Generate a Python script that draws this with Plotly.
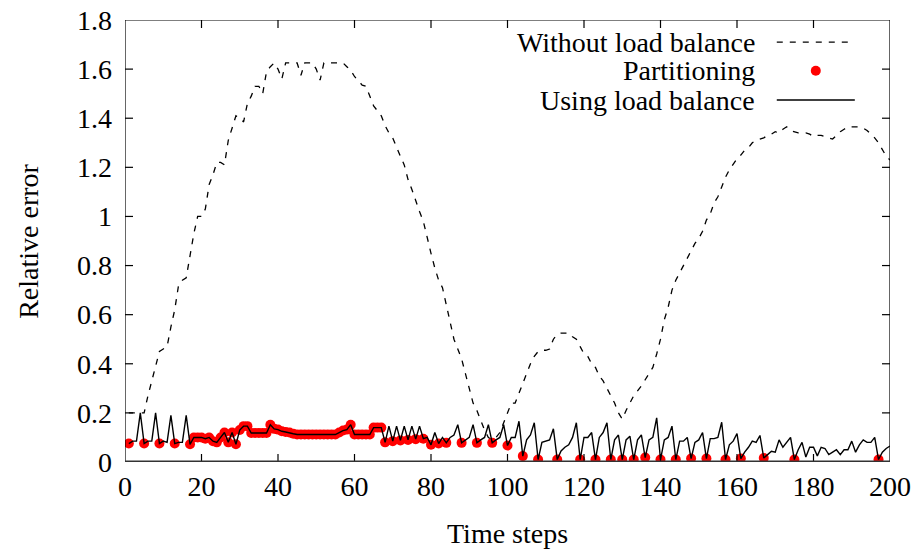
import plotly.graph_objects as go

# ---------------- data ----------------
steps = list(range(1, 201))

without_lb = [
    0.20, 0.20, 0.20, 0.20, 0.20, 0.27, 0.33, 0.39, 0.45, 0.46,
    0.47, 0.55, 0.62, 0.72, 0.74, 0.75, 0.85, 0.93, 1.00, 1.00,
    1.03, 1.13, 1.17, 1.22, 1.22, 1.21, 1.31, 1.36, 1.41, 1.40,
    1.385, 1.46, 1.49, 1.53, 1.53, 1.50, 1.59, 1.61, 1.625, 1.60,
    1.56, 1.625, 1.625, 1.625, 1.625, 1.575, 1.625, 1.625, 1.625, 1.60,
    1.555, 1.625, 1.625, 1.625, 1.625, 1.625, 1.625, 1.61, 1.595, 1.57,
    1.55, 1.535, 1.53, 1.49, 1.45, 1.43, 1.41, 1.37, 1.34, 1.32,
    1.28, 1.245, 1.21, 1.15, 1.11, 1.06, 1.02, 0.98, 0.91, 0.85,
    0.79, 0.74, 0.71, 0.64, 0.57, 0.50, 0.46, 0.42, 0.36, 0.30,
    0.24, 0.21, 0.17, 0.13, 0.10, 0.09, 0.10, 0.12, 0.16, 0.20,
    0.24, 0.24, 0.28, 0.32, 0.36, 0.40, 0.43, 0.45, 0.455, 0.455,
    0.46, 0.50, 0.52, 0.525, 0.525, 0.525, 0.51, 0.50, 0.47, 0.44,
    0.43, 0.40, 0.385, 0.35, 0.33, 0.30, 0.27, 0.24, 0.20, 0.175,
    0.21, 0.24, 0.27, 0.29, 0.31, 0.335, 0.36, 0.385, 0.44, 0.50,
    0.58, 0.63, 0.70, 0.74, 0.77, 0.80, 0.835, 0.86, 0.89, 0.91,
    0.94, 0.985, 1.01, 1.055, 1.08, 1.12, 1.16, 1.19, 1.215, 1.235,
    1.25, 1.27, 1.28, 1.30, 1.31, 1.315, 1.32, 1.33, 1.335, 1.345,
    1.34, 1.355, 1.365, 1.35, 1.345, 1.34, 1.34, 1.34, 1.335, 1.325,
    1.33, 1.33, 1.325, 1.32, 1.315, 1.33, 1.345, 1.355, 1.365, 1.365,
    1.365, 1.365, 1.36, 1.35, 1.335, 1.32, 1.30, 1.27, 1.245, 1.23,
]

using_lb = [
    0.075, 0.085, 0.085, 0.20, 0.075, 0.085, 0.085, 0.20, 0.075, 0.085,
    0.08, 0.19, 0.075, 0.08, 0.08, 0.19, 0.072, 0.10, 0.10, 0.10,
    0.095, 0.10, 0.085, 0.08, 0.10, 0.12, 0.08, 0.12, 0.072, 0.13,
    0.146, 0.146, 0.118, 0.118, 0.118, 0.118, 0.118, 0.152, 0.135, 0.132,
    0.125, 0.122, 0.12, 0.115, 0.112, 0.112, 0.112, 0.112, 0.112, 0.112,
    0.112, 0.112, 0.112, 0.112, 0.112, 0.12, 0.128, 0.132, 0.152, 0.112,
    0.112, 0.112, 0.112, 0.112, 0.14, 0.14, 0.14, 0.08, 0.146, 0.085,
    0.146, 0.088, 0.146, 0.09, 0.146, 0.093, 0.146, 0.095, 0.10, 0.07,
    0.12, 0.075, 0.10, 0.078, 0.10, 0.11, 0.152, 0.078, 0.09, 0.10,
    0.152, 0.078, 0.09, 0.10, 0.152, 0.078, 0.09, 0.10, 0.152, 0.067,
    0.10, 0.10, 0.166, 0.024, 0.09, 0.11, 0.16, 0.01, 0.08, 0.085,
    0.09, 0.135, 0.01, 0.045, 0.06, 0.07, 0.10, 0.16, 0.01, 0.10,
    0.10, 0.12, 0.01, 0.10, 0.12, 0.16, 0.01, 0.09, 0.11, 0.01,
    0.09, 0.105, 0.01, 0.09, 0.11, 0.018, 0.09, 0.10, 0.18, 0.01,
    0.09, 0.10, 0.146, 0.01, 0.085, 0.085, 0.10, 0.014, 0.08, 0.09,
    0.12, 0.014, 0.095, 0.095, 0.10, 0.162, 0.01, 0.07, 0.085, 0.116,
    0.014, 0.04, 0.06, 0.085, 0.08, 0.108, 0.016, 0.03, 0.044, 0.04,
    0.09, 0.06, 0.08, 0.10, 0.01, 0.05, 0.08, 0.02, 0.06, 0.06,
    0.025, 0.06, 0.055, 0.03, 0.04, 0.05, 0.03, 0.05, 0.05, 0.085,
    0.04, 0.07, 0.09, 0.08, 0.08, 0.10, 0.01, 0.04, 0.055, 0.065,
]

partition_steps = ([1, 5, 9, 13, 17] + list(range(18, 68)) +
                   [68, 70, 72, 74, 76, 78, 80, 82, 84, 88, 92, 96, 100, 104,
                    108, 113, 119, 123, 127, 130, 133, 136, 140, 144, 148,
                    152, 157, 161, 167, 175, 197])
partition_vals = [using_lb[s - 1] for s in partition_steps]

x_ticks = [0, 20, 40, 60, 80, 100, 120, 140, 160, 180, 200]
y_ticks = [0, 0.2, 0.4, 0.6, 0.8, 1.0, 1.2, 1.4, 1.6, 1.8]
y_tick_text = ["0", "0.2", "0.4", "0.6", "0.8", "1", "1.2", "1.4", "1.6", "1.8"]

series_names = ["Without load balance", "Partitioning", "Using load balance"]

# ---------------- figure ----------------
FONT = "Liberation Serif"
FS = 28
X_RANGE = [0, 200]
Y_RANGE = [0, 1.8]

fig = go.Figure()
fig.add_trace(go.Scatter(x=steps, y=without_lb, mode="lines",
                         name=series_names[0],
                         line=dict(color="black", width=1.3, dash="6px,7px")))
fig.add_trace(go.Scatter(x=partition_steps, y=partition_vals, mode="markers",
                         name=series_names[1],
                         marker=dict(color="#ff0000", size=10)))
fig.add_trace(go.Scatter(x=steps, y=using_lb, mode="lines",
                         name=series_names[2],
                         line=dict(color="black", width=1.4)))

# frame (gnuplot border) and inward tick marks, built from axis ranges / tick arrays
tx = 8 / 765 * (X_RANGE[1] - X_RANGE[0])   # 8 px tick length in x units
ty = 8 / 442 * (Y_RANGE[1] - Y_RANGE[0])   # 8 px tick length in y units
fx, fy = [], []
for t in x_ticks[1:-1]:
    fx += [t, t, None, t, t, None]
    fy += [Y_RANGE[0], Y_RANGE[0] + ty, None, Y_RANGE[1], Y_RANGE[1] - ty, None]
for t in y_ticks[1:-1]:
    fx += [X_RANGE[0], X_RANGE[0] + tx, None, X_RANGE[1], X_RANGE[1] - tx, None]
    fy += [t, t, None, t, t, None]
fx += [X_RANGE[0], X_RANGE[0], X_RANGE[1], X_RANGE[1]]
fy += [Y_RANGE[0], Y_RANGE[1], Y_RANGE[1], Y_RANGE[0]]
fig.add_trace(go.Scatter(x=fx, y=fy, mode="lines", cliponaxis=False,
                         hoverinfo="skip", showlegend=False,
                         line=dict(color="black", width=1.2)))
fig.add_trace(go.Scatter(x=X_RANGE, y=[Y_RANGE[0], Y_RANGE[0]], mode="lines",
                         cliponaxis=False, hoverinfo="skip", showlegend=False,
                         line=dict(color="#333333", width=3)))

axis_common = dict(showgrid=False, zeroline=False, showline=False,
                   ticks="", automargin=False,
                   tickfont=dict(family=FONT, size=FS, color="black"))

fig.update_layout(
    template="none",
    width=914, height=552,
    margin=dict(l=125, r=24, t=20, b=90, pad=0),
    paper_bgcolor="white", plot_bgcolor="white",
    showlegend=False,
    font=dict(family=FONT, size=FS, color="black"),
    xaxis=dict(range=X_RANGE, tickvals=x_ticks, ticklabelstandoff=5,
               **axis_common),
    yaxis=dict(range=Y_RANGE, tickvals=y_ticks, ticktext=y_tick_text,
               ticklabelstandoff=12, **axis_common),
)

# axis titles
fig.add_annotation(text="Relative error", xref="paper", yref="paper",
                   x=-0.127, y=0.5, textangle=-90, showarrow=False,
                   xanchor="center", yanchor="middle",
                   font=dict(family=FONT, size=FS, color="black"))
fig.add_annotation(text="Time steps", xref="paper", yref="paper",
                   x=0.5, y=-0.1616, showarrow=False,
                   xanchor="center", yanchor="middle",
                   font=dict(family=FONT, size=FS, color="black"))

# legend (gnuplot style: right-aligned text, sample to the right)
leg_y = [0.950, 0.885, 0.819]
for name, yy in zip(series_names, leg_y):
    fig.add_annotation(text=name, xref="paper", yref="paper", x=0.826, y=yy,
                       showarrow=False, xanchor="right", yanchor="middle",
                       font=dict(family=FONT, size=FS, color="black"))
fig.add_shape(type="line", xref="paper", yref="paper", x0=0.852, x1=0.954,
              y0=leg_y[0], y1=leg_y[0],
              line=dict(color="black", width=1.3, dash="6px,7px"))
fig.add_shape(type="circle", xref="paper", yref="paper",
              xsizemode="pixel", ysizemode="pixel",
              xanchor=0.903, yanchor=leg_y[1], x0=-5, x1=5, y0=-5, y1=5,
              fillcolor="#ff0000", line=dict(color="#ff0000", width=0))
fig.add_shape(type="line", xref="paper", yref="paper", x0=0.852, x1=0.954,
              y0=leg_y[2], y1=leg_y[2],
              line=dict(color="black", width=1.4))

post = (
    "document.body.style.margin='0';"
    "document.body.style.overflow='hidden';"
)
fig.write_html("out.html", config={"displayModeBar": False}, post_script=post)
